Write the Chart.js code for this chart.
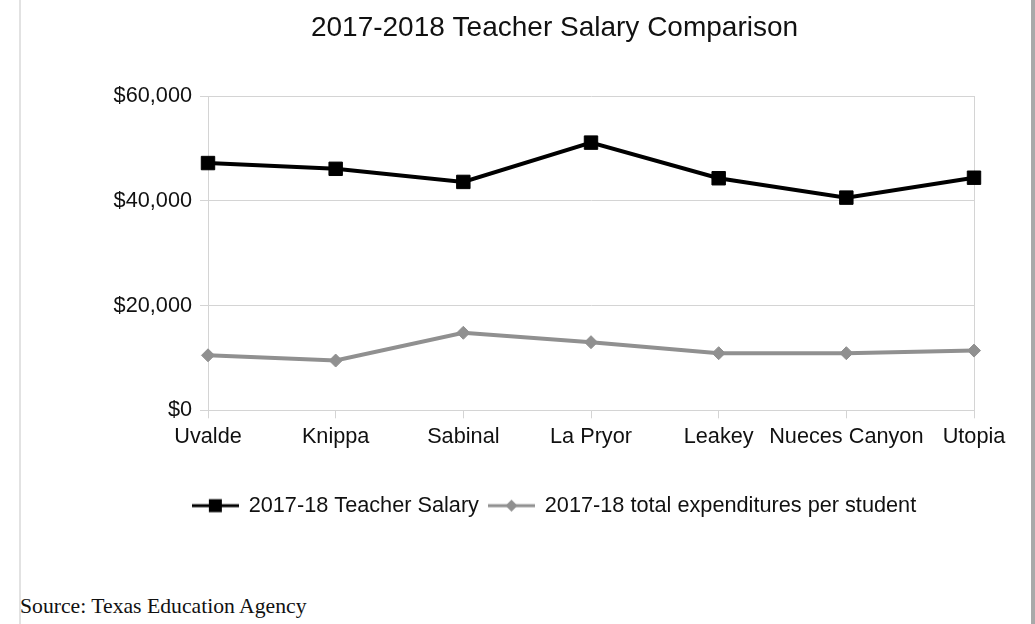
<!DOCTYPE html>
<html>
<head>
<meta charset="utf-8">
<script src="https://cdn.jsdelivr.net/npm/chart.js@4.4.1/dist/chart.umd.min.js"></script>
<style>
  html, body { margin: 0; padding: 0; background: #fff; }
  body { width: 1035px; height: 624px; position: relative; overflow: hidden; }
  #wrap { position: absolute; left: 0; top: 0; width: 1035px; height: 545px; }
  #edgeLeft { position: absolute; left: 19px; top: 0; width: 2px; height: 624px; background: #e2e2e2; }
  #edgeRight { position: absolute; left: 1031px; top: 0; width: 4px; height: 624px; background: #a9a9a9; }
  #source { position: absolute; left: 20px; top: 595px; font-family: "Liberation Serif", "Times New Roman", serif; font-size: 21.7px; line-height: 22px; color: #111; white-space: nowrap; }
</style>
</head>
<body>
<div id="edgeLeft"></div>
<div id="edgeRight"></div>
<div id="wrap"><canvas id="chart_teacherSalary"></canvas></div>
<div id="source">Source: Texas Education Agency</div>
<script>
var districts = ['Uvalde', 'Knippa', 'Sabinal', 'La Pryor', 'Leakey', 'Nueces Canyon', 'Utopia'];
var teacherSalary = [47200, 46100, 43600, 51100, 44300, 40600, 44400];
var expendPerStudent = [10500, 9500, 14800, 13000, 10900, 10900, 11400];
var yTicks = [0, 20000, 40000, 60000];

var FONT = '"Liberation Sans", Arial, sans-serif';
var TEXT = '#111';
var GRID = '#d4d4d4';

// legend icon: short line with the marker in the middle
function legendIcon(color, shape) {
    var c = document.createElement('canvas');
    c.width = 47;
    c.height = 20;
    var g = c.getContext('2d');
    g.strokeStyle = color;
    g.lineWidth = 3;
    g.beginPath();
    g.moveTo(0, 10);
    g.lineTo(47, 10);
    g.stroke();
    g.fillStyle = color;
    if (shape === 'rect') {
        g.fillRect(17, 3.5, 13, 13);
    } else {
        g.beginPath();
        g.moveTo(23.5, 4);
        g.lineTo(29.5, 10);
        g.lineTo(23.5, 16);
        g.lineTo(17.5, 10);
        g.closePath();
        g.fill();
    }
    return c;
}

var chart_teacherSalary = new Chart(document.getElementById('chart_teacherSalary'), {
    type: 'line',
    data: {
        labels: districts,
        datasets: [
            {
                label: '2017-18 Teacher Salary',
                data: teacherSalary,
                borderColor: '#000',
                backgroundColor: '#000',
                borderWidth: 4,
                pointStyle: 'rect',
                pointRadius: 9.5,
                pointHoverRadius: 9.5,
                pointBorderWidth: 1,
                tension: 0,
                clip: false
            },
            {
                label: '2017-18 total expenditures per student',
                data: expendPerStudent,
                borderColor: '#909090',
                backgroundColor: '#909090',
                borderWidth: 4,
                pointStyle: 'rectRot',
                pointRadius: 6.5,
                pointHoverRadius: 6.5,
                pointBorderWidth: 1,
                tension: 0,
                clip: false
            }
        ]
    },
    options: {
        animation: false,
        responsive: true,
        maintainAspectRatio: false,
        layout: {
            padding: { left: 105, right: 31, top: 0, bottom: 18.5 }
        },
        plugins: {
            title: {
                display: true,
                text: '2017-2018 Teacher Salary Comparison',
                color: TEXT,
                font: { family: FONT, size: 28, weight: 'normal' },
                padding: { top: 11, bottom: 51.4 }
            },
            legend: {
                position: 'bottom',
                labels: {
                    color: TEXT,
                    font: { family: FONT, size: 21.7 },
                    usePointStyle: true,
                    pointStyleWidth: 45,
                    padding: 10,
                    generateLabels: function(chart) {
                        return [
                            { text: chart.data.datasets[0].label, pointStyle: legendIcon('#000', 'rect'), datasetIndex: 0, fontColor: TEXT, lineWidth: 0 },
                            { text: chart.data.datasets[1].label, pointStyle: legendIcon('#909090', 'diamond'), datasetIndex: 1, fontColor: TEXT, lineWidth: 0 }
                        ];
                    }
                }
            },
            tooltip: { enabled: false }
        },
        scales: {
            x: {
                offset: false,
                afterFit: function(scale) { scale.height = 74.5; },
                grid: {
                    color: function(ctx) { return ctx.index === districts.length - 1 ? GRID : 'rgba(0,0,0,0)'; },
                    tickColor: GRID,
                    tickLength: 8,
                    lineWidth: 1
                },
                border: { display: true, color: GRID },
                ticks: {
                    color: TEXT,
                    font: { family: FONT, size: 21.7 },
                    padding: 6,
                    maxRotation: 0,
                    autoSkip: false
                }
            },
            y: {
                min: 0,
                max: 60000,
                afterFit: function(scale) { scale.width = 103; },
                afterBuildTicks: function(scale) {
                    scale.ticks = yTicks.map(function(v) { return { value: v }; });
                },
                grid: { color: GRID, tickColor: GRID, tickLength: 8 },
                border: { display: true, color: GRID },
                ticks: {
                    color: TEXT,
                    font: { family: FONT, size: 21.7 },
                    padding: 8,
                    callback: function(value) {
                        return '$' + value.toLocaleString('en-US');
                    }
                }
            },
            // empty right-hand axis, only reserves room so title and legend centre like the original
            yPad: {
                position: 'right',
                afterFit: function(scale) { scale.width = 30; },
                grid: { display: false },
                border: { display: false },
                ticks: { display: false }
            }
        }
    }
});
</script>
</body>
</html>
